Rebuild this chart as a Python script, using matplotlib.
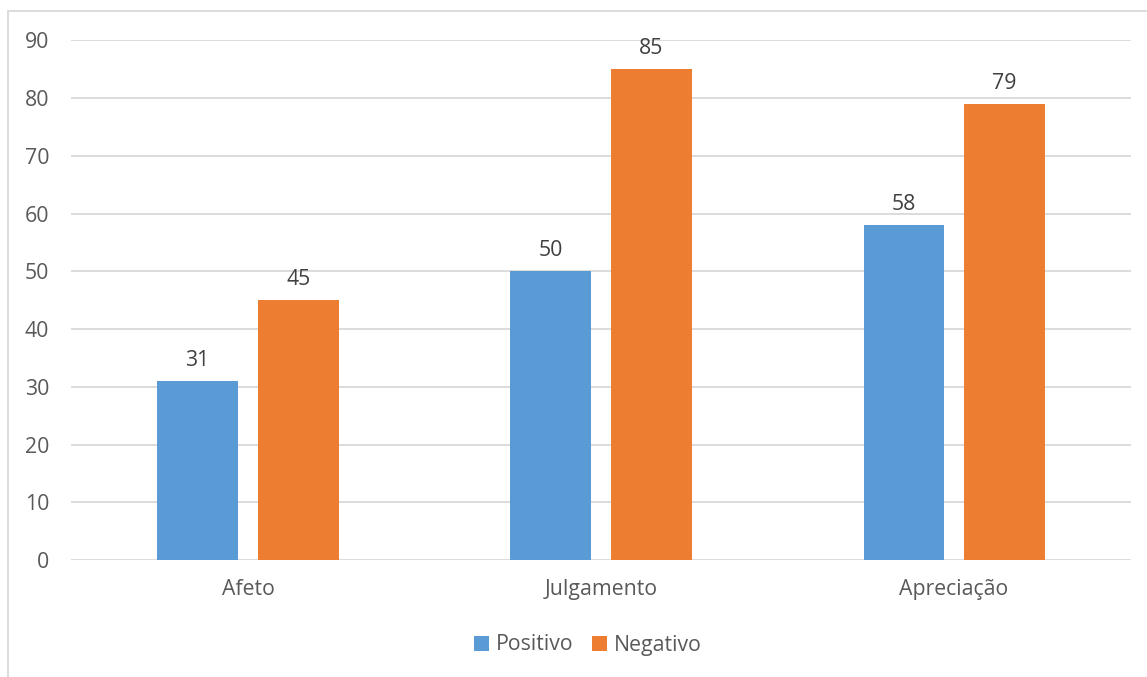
import numpy as np
import matplotlib.pyplot as plt
from matplotlib.patches import Rectangle

categorias = ["Afeto", "Julgamento", "Apreciação"]
positivo = [31, 50, 58]
negativo = [45, 85, 79]
y_ticks = [0, 10, 20, 30, 40, 50, 60, 70, 80, 90]

plt.rcParams['font.family'] = ['Open Sans', 'DejaVu Sans']
fs = 15.3

fig = plt.figure(figsize=(11.47, 6.77), dpi=100)
ax = fig.add_axes([0.0623, 0.1728, 0.9234, 0.7674])

# frame around the whole chart area
fig.patches.append(Rectangle((8 / 1147, -0.1), 1.2, 1 - 11 / 677 + 0.1,
                             transform=fig.transFigure, fill=False,
                             edgecolor='#d9d9d9', linewidth=1.3))

x = np.arange(len(categorias))
w = 0.227
off = 0.143
b1 = ax.bar(x - off, positivo, w, color='#5B9BD5', label='Positivo', zorder=3)
b2 = ax.bar(x + off, negativo, w, color='#ED7D31', label='Negativo', zorder=3)

for bars in (b1, b2):
    for rect in bars:
        h = rect.get_height()
        ax.annotate(f'{h:g}', (rect.get_x() + rect.get_width() / 2, h),
                    xytext=(0, 7.5), textcoords='offset points',
                    ha='center', va='bottom', fontsize=fs, color='#404040')

ax.set_xlim(-0.5, 2.5)
ax.set_ylim(0, 90)
ax.set_yticks(y_ticks)
ax.set_xticks(x)
ax.set_xticklabels(categorias)
ax.tick_params(axis='both', length=0, labelsize=fs, labelcolor='#595959')
ax.tick_params(axis='x', pad=14)
ax.tick_params(axis='y', pad=16)
ax.grid(axis='y', color='#d9d9d9', linewidth=1.3, zorder=0)
for s in ax.spines.values():
    s.set_visible(False)

fig.legend(handles=[b1, b2], loc='center', bbox_to_anchor=(588 / 1147, 1 - 645 / 677),
           ncol=2, frameon=False, fontsize=fs, labelcolor='#595959',
           handlelength=0.7, handleheight=0.7, handletextpad=0.3, columnspacing=0.9)

fig.savefig('out.png', dpi=100)
